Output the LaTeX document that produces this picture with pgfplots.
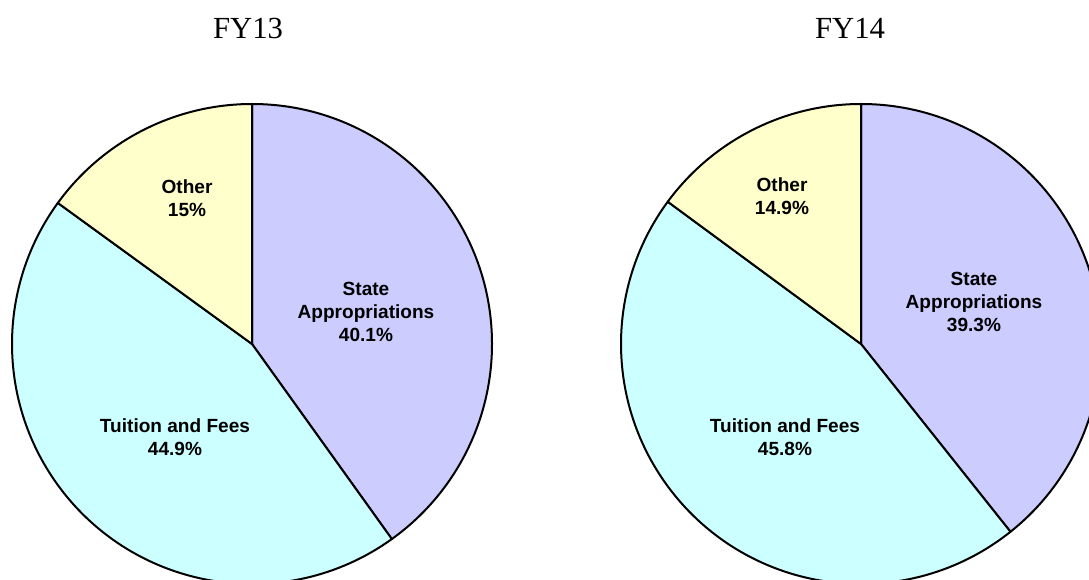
\documentclass[border=0pt]{standalone}
\usepackage{pgfplots}
\pgfplotsset{compat=1.18}
\usepackage{pgfplotstable}
\usepackage{fontspec}
\setmainfont{Liberation Serif}
\newfontfamily\arial{Liberation Sans}
\definecolor{stateC}{HTML}{CCCCFF}
\definecolor{tuitC}{HTML}{CCFFFF}
\definecolor{otherC}{HTML}{FFFFCC}

% FY13 revenue shares (%)
\pgfplotstableread{
label value
State 40.1
Tuition 44.9
Other 15.0
}\fyA
% FY14 revenue shares (%)
\pgfplotstableread{
label value
State 39.3
Tuition 45.8
Other 14.9
}\fyB

\begin{document}
\begin{tikzpicture}
% angles from the data (clockwise from 12 o'clock)
\pgfplotstablegetelem{0}{value}\of\fyA \pgfmathsetmacro\vAa{\pgfplotsretval}
\pgfplotstablegetelem{1}{value}\of\fyA \pgfmathsetmacro\vAb{\pgfplotsretval}
\pgfplotstablegetelem{0}{value}\of\fyB \pgfmathsetmacro\vBa{\pgfplotsretval}
\pgfplotstablegetelem{1}{value}\of\fyB \pgfmathsetmacro\vBb{\pgfplotsretval}
\pgfmathsetmacro\tAb{90-3.6*\vAa}
\pgfmathsetmacro\tAc{\tAb-3.6*\vAb}
\pgfmathsetmacro\tAd{\tAc+360}
\pgfmathsetmacro\tBb{90-3.6*\vBa}
\pgfmathsetmacro\tBc{\tBb-3.6*\vBb}
\pgfmathsetmacro\tBd{\tBc+360}
\begin{axis}[
  scale only axis, width=816.75pt, height=434.25pt,
  xmin=0, xmax=1089, ymin=0, ymax=579,
  hide axis, clip=true, clip bounding box=upper bound,
]
\tikzset{slice/.style={draw=black, line width=1.5pt, line join=round}}
% FY13 pie
\filldraw[slice, fill=stateC] (axis cs:252,235) -- ++(90:180pt) arc[start angle=90, end angle=\tAb, radius=180pt] -- cycle;
\filldraw[slice, fill=tuitC] (axis cs:252,235) -- ++(\tAb:180pt) arc[start angle=\tAb, end angle=\tAc, radius=180pt] -- cycle;
\filldraw[slice, fill=otherC] (axis cs:252,235) -- ++(\tAd:180pt) arc[start angle=\tAd, end angle=90, radius=180pt] -- cycle;
% FY14 pie
\filldraw[slice, fill=stateC] (axis cs:861,235) -- ++(90:180pt) arc[start angle=90, end angle=\tBb, radius=180pt] -- cycle;
\filldraw[slice, fill=tuitC] (axis cs:861,235) -- ++(\tBb:180pt) arc[start angle=\tBb, end angle=\tBc, radius=180pt] -- cycle;
\filldraw[slice, fill=otherC] (axis cs:861,235) -- ++(\tBd:180pt) arc[start angle=\tBd, end angle=90, radius=180pt] -- cycle;
% titles
\node[anchor=north, inner sep=0pt, font=\fontsize{23}{27}\selectfont] at (axis cs:248,561) {FY13};
\node[anchor=north, inner sep=0pt, font=\fontsize{23}{27}\selectfont] at (axis cs:850,561) {FY14};
% labels
\tikzset{lab/.style={anchor=north, inner sep=0pt, align=center, font=\arial\bfseries\fontsize{14.3}{17.25}\selectfont}}
\node[lab] at (axis cs:187,400) {Other\\15\%};
\node[lab] at (axis cs:366,297) {State\\Appropriations\\40.1\%};
\node[lab] at (axis cs:175,161) {Tuition and Fees\\44.9\%};
\node[lab] at (axis cs:782,402) {Other\\14.9\%};
\node[lab] at (axis cs:974,307) {State\\Appropriations\\39.3\%};
\node[lab] at (axis cs:785,161) {Tuition and Fees\\45.8\%};
\end{axis}
\pgfresetboundingbox
\path (current axis.south west) rectangle (current axis.north east);
\end{tikzpicture}
\end{document}
